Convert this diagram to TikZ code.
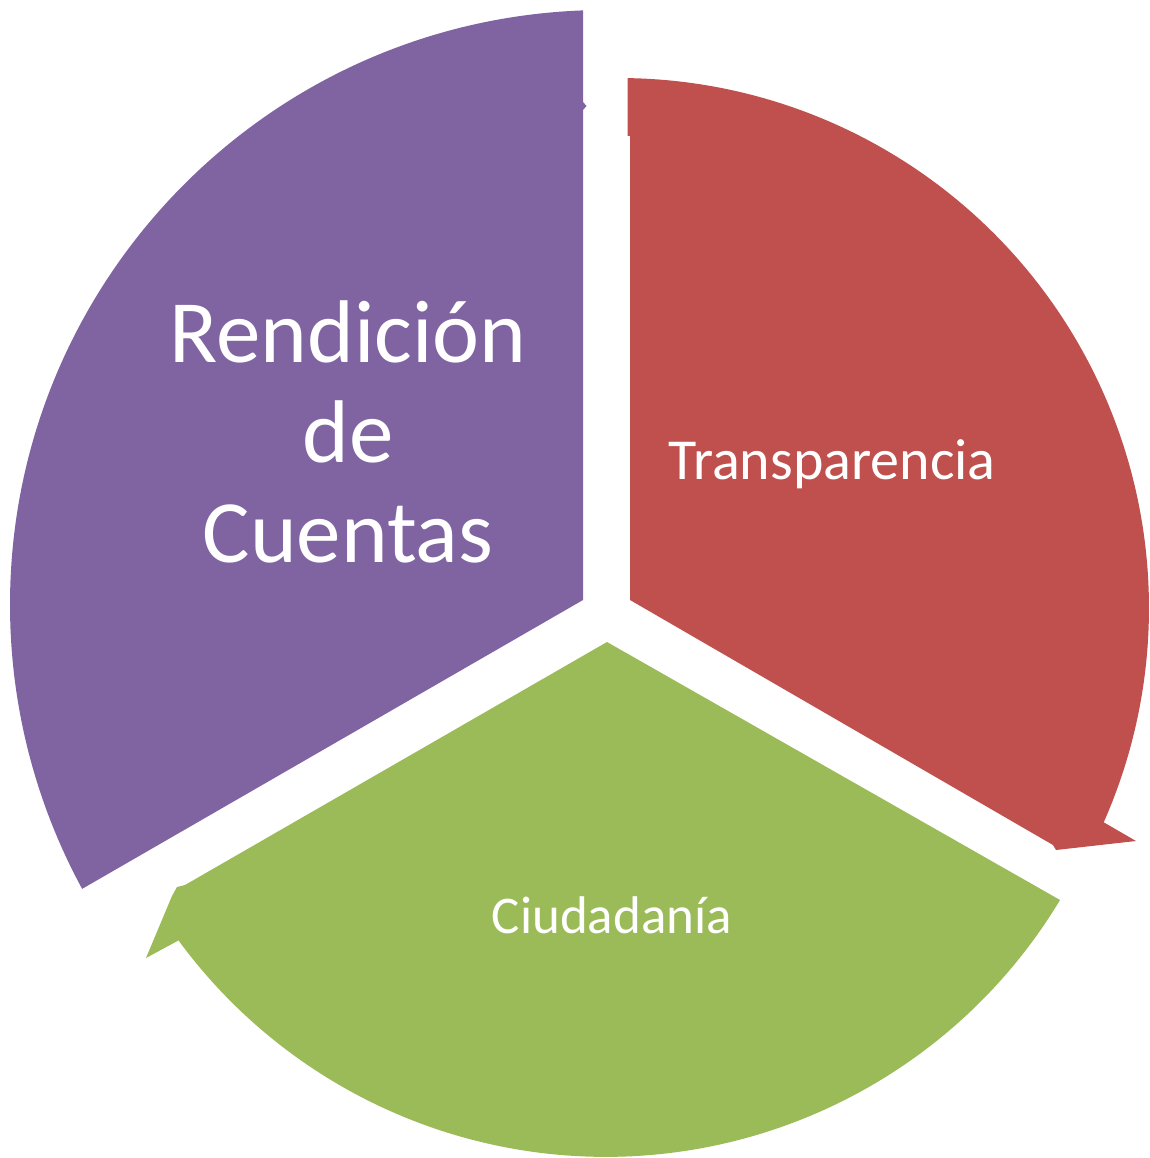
\documentclass[tikz,border=0pt]{standalone}
\usepackage{fontspec}
\setmainfont{Carlito}
\definecolor{cpurple}{HTML}{8064A2}
\definecolor{cred}{HTML}{C0504D}
\definecolor{cgreen}{HTML}{9BBB59}
\begin{document}
\begin{tikzpicture}[x=1pt,y=-1pt,
  seg/.style={fill=#1, draw=none},
  lbl/.style={text=white, anchor=base, inner sep=0pt}]
\useasboundingbox (0,0) rectangle (1149,1158);
% purple segment
\fill[seg=cpurple] (583,600) -- (583,10.4)
   arc[start angle=267.88, end angle=151.5, radius=595] -- cycle;
\fill[seg=cpurple] (583,102) -- (586.5,106) -- (583,110) -- cycle;
% red segment
\fill[seg=cred] (630,600) -- (630,136) -- (627.5,136) -- (627.5,78.1)
   arc[start angle=270.92, end angle=383.85, radius=530]
   -- (1136,841) -- (1056,850) -- (1053,845) -- cycle;
% green segment
\fill[seg=cgreen] (607,642) -- (1060,900)
   arc[start angle=31.02, end angle=143.73, radius=530]
   -- (146,958) -- (172,896) -- (177,887) -- (185,885) -- cycle;
% labels
\node[lbl, font=\fontsize{89}{100}\selectfont] (r1) at (348,362) {Rendición};
\node[lbl, font=\fontsize{89}{100}\selectfont] (r2) at (348,462) {de};
\node[lbl, font=\fontsize{89}{100}\selectfont] (r3) at (348,562) {Cuentas};
\node[lbl, font=\fontsize{58}{64}\selectfont] (t) at (832,479) {Transparencia};
\node[lbl, font=\fontsize{53}{60}\selectfont] (c) at (612,933) {Ciudadanía};
\end{tikzpicture}
\end{document}
